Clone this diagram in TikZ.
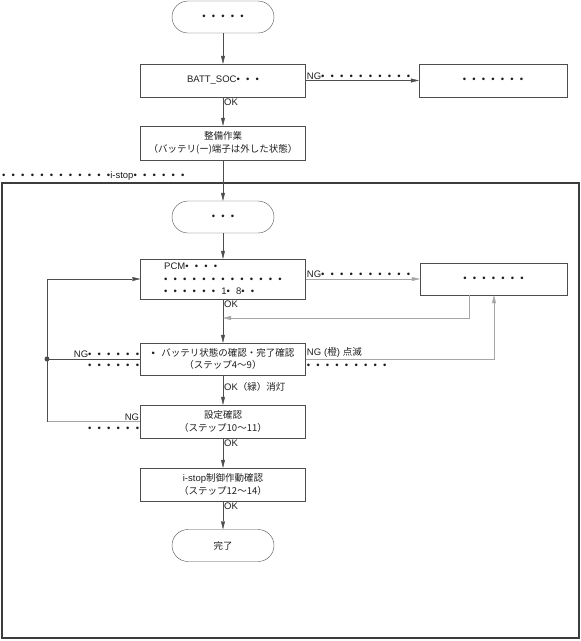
\documentclass[tikz,border=0pt]{standalone}
\usepackage{fontspec}
\setmainfont{Liberation Sans}
\newfontfamily\jp{Noto Sans CJK JP}
\usetikzlibrary{arrows.meta}
\definecolor{LineDark}{HTML}{4D4D4D}
\definecolor{LineLight}{HTML}{A6A6A6}
\definecolor{FrameDark}{HTML}{3C3C3C}
\definecolor{TextDark}{HTML}{1E1E1E}
\newcommand{\nodefont}{\fontsize{9.5}{12.5}\selectfont\spaceskip=6.2pt\relax}

\begin{document}
\begin{tikzpicture}[x=1pt, y=-1pt,
    every node/.style={font=\nodefont, text=TextDark},
    term/.style={draw=LineDark, rounded corners=16pt, minimum width=102pt, minimum height=32pt},
    proc/.style={draw=LineDark, minimum width=165pt, minimum height=33pt, align=center},
    ar/.style={-{Triangle[length=8pt,width=4pt]}, LineDark},
    lbl/.style={inner sep=1pt},
    under/.style={inner sep=1pt, yshift=-4pt}]
  \useasboundingbox (0,0) rectangle (581,641);
  % upper part
  \node[term] (start) at (223,17) {• • • • •};
  \node[proc] (batt) at (223,80.5) {BATT\_SOC• • •};
  \node[proc, minimum width=148pt] (ngA) at (493,80.5) {• • • • • • •};
  \node[proc, minimum height=34pt] (prep) at (223,143)
    {{\jp 整備作業}\\{\jp （バッテリ(ー)端子は外した状態）}};
  \node[lbl, anchor=west] (zone) at (1,176) {• • • • • • • • • • • •i-stop• • • • • •};
  \draw[FrameDark, line width=1.2pt] (2,183) rectangle (579,638);
  % inner part
  \node[term] (sub) at (223,217) {• • •};
  \node[proc, minimum height=40pt, align=left] (pcm) at (223,279)
    {PCM• • • •\\• • • • • • • • • • • • •\\• • • • • • 1• 8• •};
  \node[proc, minimum width=147pt, minimum height=32pt] (ngB) at (493.5,279) {• • • • • • •};
  \node[proc, minimum height=32pt] (chk) at (223,359)
    {• {\jp バッテリ状態の確認・完了確認}\\{\jp （ステップ4～9）}};
  \node[proc] (set) at (223,421.5) {{\jp 設定確認}\\{\jp （ステップ10～11）}};
  \node[proc] (ctl) at (223,484.5) {i-stop{\jp 制御作動確認}\\{\jp （ステップ12～14）}};
  \node[term] (fin) at (223,545.5) {\jp 完了};
  \coordinate (retA) at (469,318);
  \coordinate (retB) at (223,318);
  \coordinate (upA) at (494,0);
  \coordinate (jn) at (chk.west -| 47,0);
  % connectors
  \draw[ar] (start) -- (batt);
  \draw[ar] (batt) -- node[lbl, pos=0, anchor=north west]{OK} (prep);
  \draw[ar] (batt) -- node[lbl, pos=0, anchor=south west]{NG• • • • • • • • • •} (ngA);
  \draw[ar] (prep) -- (sub);
  \draw[ar] (sub) -- (pcm);
  \draw[ar, LineLight] (pcm) -- node[lbl, pos=0, anchor=south west]{NG• • • • • • • • • •} (ngB);
  \draw[ar] (pcm) -- node[lbl, pos=0, anchor=north west]{OK} (chk);
  \draw[ar, LineLight] (ngB.south -| retA) -- (retA) -- (retB);
  \draw[ar] (chk) -- node[lbl, pos=.4, anchor=west]{OK{\jp （緑）消灯}} (set);
  \draw[ar, LineLight] (chk.east)
    -- node[lbl, pos=0, anchor=south west]{NG\hspace{3pt}({\jp 橙})\hspace{3pt}{\jp 点滅}}
       node[under, pos=0, anchor=north west]{• • • • • • • • •} (chk.east -| upA)
    -- (upA |- ngB.south);
  \draw[LineDark] (chk.west)
    -- node[lbl, pos=0, anchor=south east]{NG• • • • • •}
       node[under, pos=0, anchor=north east]{• • • • • •} (jn);
  \draw[LineLight] (set.west)
    -- node[lbl, pos=0, anchor=south east]{NG}
       node[under, pos=0, anchor=north east]{• • • • • •} (set.west -| jn);
  \draw[LineDark] (set.west -| jn) -- (jn);
  \draw[ar] (jn) |- (pcm.west);
  \fill[LineDark] (jn) circle (2.5pt);
  \draw[ar] (set) -- node[lbl, pos=0, anchor=north west]{OK} (ctl);
  \draw[ar] (ctl) -- node[lbl, pos=0, anchor=north west]{OK} (fin);
\end{tikzpicture}
\end{document}
